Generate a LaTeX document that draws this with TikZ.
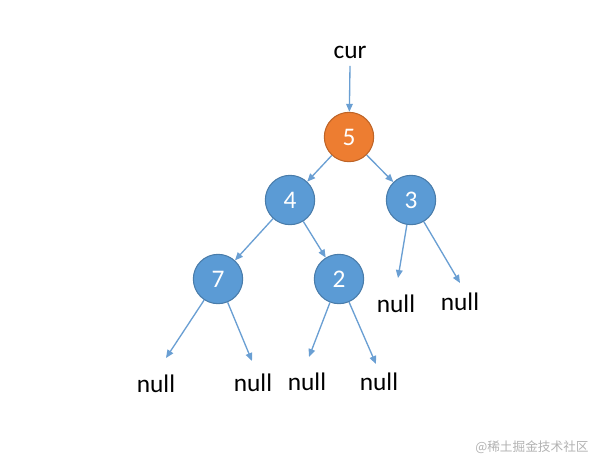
\documentclass[tikz,border=0pt]{standalone}
\usepackage{fontspec}
\setmainfont{Carlito}
\newfontfamily\cjk{Noto Sans CJK SC}
\usetikzlibrary{arrows.meta}
\definecolor{nodeblue}{HTML}{5B9BD5}
\definecolor{nodeorange}{HTML}{ED7D31}
\definecolor{edgeblue}{HTML}{6A9FD3}

\begin{document}
\begin{tikzpicture}[x=0.75pt, y=-0.75pt,
    treenode/.style={circle, draw=nodeblue!80!black, line width=0.8pt, fill=nodeblue,
      minimum size=37pt, inner sep=0pt, text=white, font=\fontsize{19}{19}\selectfont},
    leaf/.style={font=\fontsize{19}{19}\selectfont},
    link/.style={draw=edgeblue, line width=1pt, -{Triangle[width=5pt,length=6pt]}}]
  \useasboundingbox (0,0) rectangle (592,462);
  \node[leaf] (cur) at (350,52) {cur};
  \node[treenode, fill=nodeorange, draw=nodeorange!80!black] (n5) at (349,137) {5};
  \node[treenode] (n4) at (290,200) {4};
  \node[treenode] (n3) at (411,200) {3};
  \node[treenode] (n7) at (218,279) {7};
  \node[treenode] (n2) at (339,279) {2};
  \draw[link] (cur.south) ++(0,3) -- (n5);
  \draw[link] (n5) -- (n4);
  \draw[link] (n5) -- (n3);
  \draw[link] (n4) -- (n7);
  \draw[link] (n4) -- (n2);
  % leaves and the arrows pointing at them
  \foreach \p/\tx/\ty/\lx/\ly/\n in {n3/398/278/396/304/a, n3/460/283/460/302/b,
      n7/166/358/156/384/c, n7/252/361/253/383/d, n2/309/357/307/382/e, n2/376/364/379/382/f} {
    \coordinate (tip\n) at (\tx,\ty);
    \node[leaf] (null\n) at (\lx,\ly) {null};
    \draw[link] (\p) -- (tip\n);
  }
  \node[text=black!30, font=\cjk\fontsize{9.5}{10}\selectfont] (mark) at (532,447) {@稀土掘金技术社区};
\end{tikzpicture}
\end{document}
